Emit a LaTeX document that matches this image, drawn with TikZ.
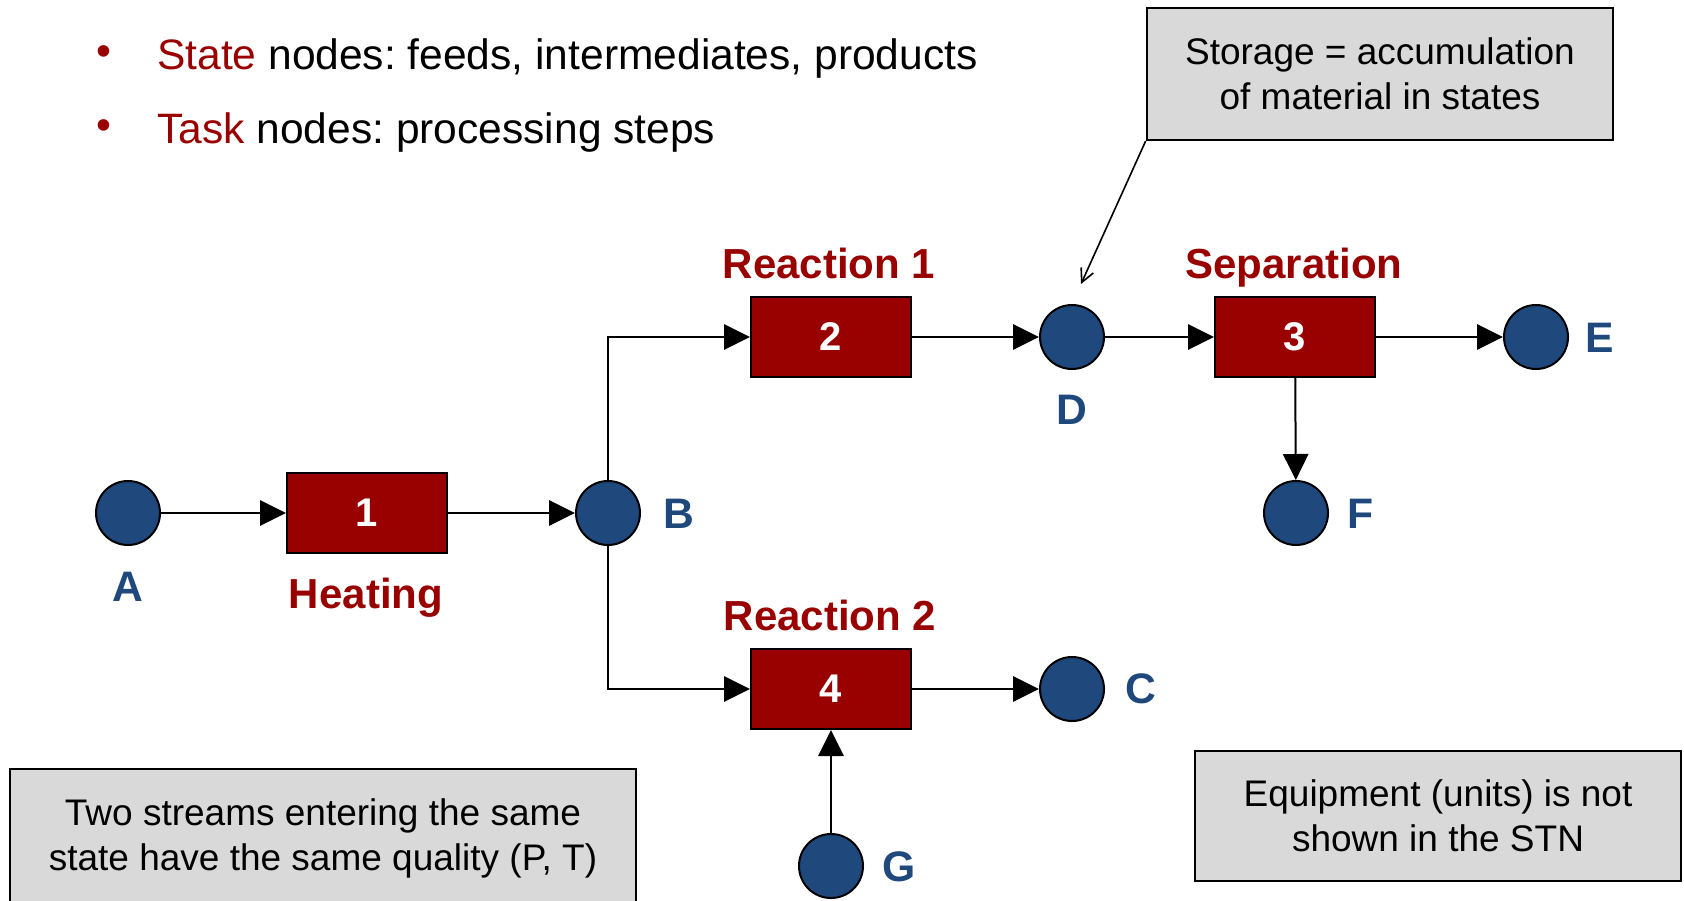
\documentclass[tikz,border=0pt]{standalone}
\usepackage{fontspec}
\setmainfont{Liberation Sans}
\usetikzlibrary{arrows.meta}
\definecolor{taskred}{RGB}{153,0,0}
\definecolor{stateblue}{RGB}{31,73,125}
\definecolor{notegray}{RGB}{217,217,217}
\frenchspacing
\begin{document}
\begin{tikzpicture}[x=0.75pt,y=-0.75pt,
 state/.style={circle,draw=black,fill=stateblue,line width=1.5pt,minimum size=48pt,inner sep=0pt},
 task/.style={rectangle,draw=black,fill=taskred,line width=1.5pt,minimum width=120pt,minimum height=60pt,inner sep=0pt,text=white,font=\fontsize{30}{36}\selectfont\bfseries},
 tasklabel/.style={text=taskred,font=\fontsize{31.5}{38}\selectfont\bfseries,inner sep=0pt,anchor=base},
 statelabel/.style={text=stateblue,font=\fontsize{32}{38}\selectfont\bfseries,inner sep=0pt},
 note/.style={rectangle,draw=black,fill=notegray,line width=1.5pt,align=center,font=\fontsize{27.75}{33.75}\selectfont,inner sep=0pt},
 flow/.style={line width=1.5pt,-{Triangle[length=19.5pt,width=19pt]}},
 bullettext/.style={anchor=base west,inner sep=0pt,font=\fontsize{31.9}{38}\selectfont},
 bulletdot/.style={inner sep=0pt,text=taskred,font=\fontsize{31.9}{38}\selectfont},
]
\useasboundingbox (0,0) rectangle (1684,900);
\clip (0,0) rectangle (1684,900);

% bullets
\node[bulletdot] (b1) at (104,56) {•};
\node[bullettext] (t1) at (157,69) {\textcolor{taskred}{State} nodes: feeds, intermediates, products};
\node[bulletdot] (b2) at (104,130) {•};
\node[bullettext] (t2) at (157,143) {\textcolor{taskred}{Task} nodes: processing steps};

% states
\node[state] (A) at (128,513) {};
\node[state] (B) at (608,513) {};
\node[state] (D) at (1072,337) {};
\node[state] (E) at (1536,337) {};
\node[state] (F) at (1296,513) {};
\node[state] (C) at (1072,689) {};
\node[state] (G) at (831,866) {};

\node[statelabel] (lA) at (128,587) {A};
\node[statelabel] (lB) at (679,514) {B};
\node[statelabel] (lD) at (1072,410) {D};
\node[statelabel] (lE) at (1600,338) {E};
\node[statelabel] (lF) at (1361,514) {F};
\node[statelabel] (lC) at (1141,689) {C};
\node[statelabel] (lG) at (899,867) {G};

% tasks
\node[task] (T1) at (367,513) {1};
\node[task] (T2) at (831,337) {2};
\node[task] (T3) at (1295,337) {3};
\node[task] (T4) at (831,689) {4};

\node[tasklabel] (lT1) at (366,608) {Heating};
\node[tasklabel] (lT2) at (829,278) {Reaction 1};
\node[tasklabel] (lT3) at (1294,278) {Separation};
\node[tasklabel] (lT4) at (830,630) {Reaction 2};

% flows
\draw[flow] (A) -- (T1);
\draw[flow] (T1) -- (B);
\draw[flow] (B.north) |- (T2.west);
\draw[flow] (B.south) |- (T4.west);
\draw[flow] (T2) -- (D);
\draw[flow] (D) -- (T3);
\draw[flow] (T3) -- (E);
\draw[flow] (T3) -- (F);
\draw[flow] (T4) -- (C);
\draw[flow] (G) -- (T4);

% notes
\node[note,minimum width=350pt,minimum height=99pt] (N1) at (1380,74) {Storage = accumulation\\of material in states};
\node[note,minimum width=470pt,minimum height=103.5pt] (N2) at (323,838) {Two streams entering the same\\state have the same quality (P, T)};
\node[note,minimum width=364pt,minimum height=98pt] (N3) at (1438,816) {Equipment (units) is not\\shown in the STN};

\coordinate (Dtip) at (1081,284);
\draw[line width=1.2pt,-{Straight Barb[length=10pt,width=10pt]}] (N1.south west) -- (Dtip);
\end{tikzpicture}
\end{document}
